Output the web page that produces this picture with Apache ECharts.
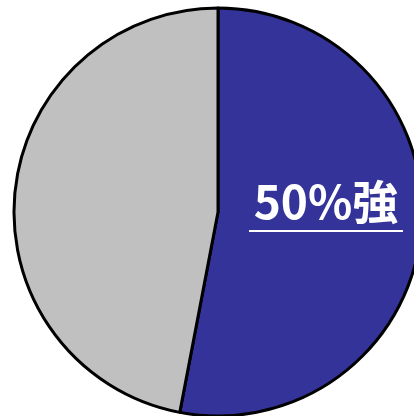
<!DOCTYPE html>
<html>
<head>
<meta charset="utf-8">
<script src="https://cdn.jsdelivr.net/npm/echarts@6/dist/echarts.min.js"></script>
<style>
html,body{margin:0;padding:0;background:#fff;}
#chart{width:414px;height:416px;}
</style>
</head>
<body>
<div id="chart"></div>
<script>
const categories = ['A', 'B'];
const values = [53, 47];
const colors = ['#333399', '#C0C0C0'];
const labelText = '50%強';

const chart = echarts.init(document.getElementById('chart'), null, {renderer: 'canvas'});
chart.setOption({
  animation: false,
  series: [{
    type: 'pie',
    center: [218, 212],
    radius: 204,
    startAngle: 90,
    clockwise: true,
    label: {show: false},
    labelLine: {show: false},
    emphasis: {disabled: true},
    itemStyle: {borderColor: '#000', borderWidth: 3},
    data: categories.map((c, i) => ({name: c, value: values[i], itemStyle: {color: colors[i]}}))
  }],
  graphic: {
    elements: [
      {
        type: 'text', x: 326, y: 202, z: 100, silent: true,
        style: {
          text: labelText, fill: '#fff',
          font: 'bold 46px "Noto Sans CJK JP", sans-serif',
          textAlign: 'center', textVerticalAlign: 'middle'
        }
      },
      {
        type: 'rect', x: 249, y: 230, z: 100, silent: true,
        shape: {width: 154, height: 2},
        style: {fill: '#fff'}
      }
    ]
  }
});
</script>
</body>
</html>
